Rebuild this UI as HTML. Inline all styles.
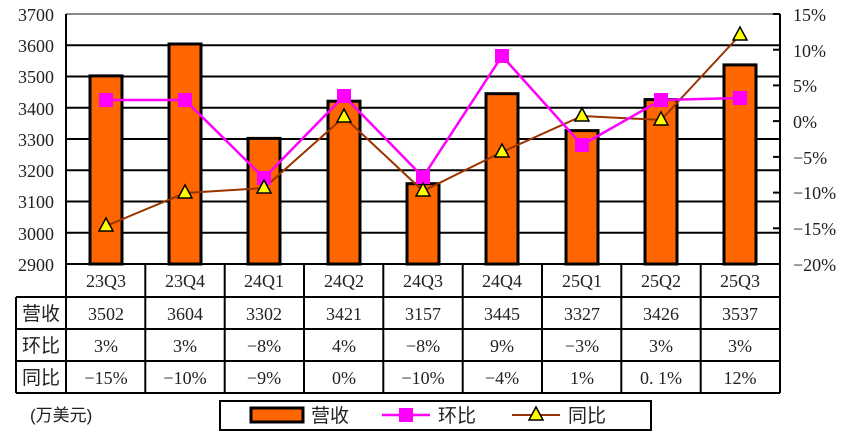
<!DOCTYPE html>
<html><head><meta charset="utf-8"><style>
body{margin:0;background:#fff;width:858px;height:442px;overflow:hidden}
text{font-family:"Liberation Serif","Noto Serif CJK SC",serif;font-size:18px;fill:#222}
.c{font-family:"Liberation Sans","Noto Sans CJK SC",sans-serif;font-size:19px}
</style></head><body>
<svg width="858" height="442" xmlns="http://www.w3.org/2000/svg">
<g stroke="#000" stroke-width="2">
<line x1="66" y1="45.25" x2="780" y2="45.25"/><line x1="66" y1="76.5" x2="780" y2="76.5"/>
<line x1="66" y1="107.75" x2="780" y2="107.75"/><line x1="66" y1="139" x2="780" y2="139"/>
<line x1="66" y1="170.25" x2="780" y2="170.25"/><line x1="66" y1="201.5" x2="780" y2="201.5"/>
<line x1="66" y1="232.75" x2="780" y2="232.75"/>
</g>
<line x1="66" y1="14" x2="780" y2="14" stroke="#888" stroke-width="2"/>
<g text-anchor="end">
<text x="54" y="21">3700</text><text x="54" y="52">3600</text><text x="54" y="83">3500</text>
<text x="54" y="115">3400</text><text x="54" y="146">3300</text><text x="54" y="177">3200</text>
<text x="54" y="208">3100</text><text x="54" y="240">3000</text><text x="54" y="271">2900</text>
</g>
<g stroke="#000" stroke-width="2">
<line x1="773" y1="14" x2="780" y2="14"/><line x1="773" y1="49.7" x2="780" y2="49.7"/>
<line x1="773" y1="85.4" x2="780" y2="85.4"/><line x1="773" y1="121.1" x2="780" y2="121.1"/>
<line x1="773" y1="156.9" x2="780" y2="156.9"/><line x1="773" y1="192.6" x2="780" y2="192.6"/>
<line x1="773" y1="228.3" x2="780" y2="228.3"/>
</g>
<text x="793" y="21">15%</text><text x="793" y="57">10%</text><text x="793" y="92">5%</text>
<text x="793" y="128">0%</text><text x="793" y="164">−5%</text><text x="793" y="199">−10%</text>
<text x="793" y="235">−15%</text><text x="793" y="271">−20%</text>
<g fill="#ff6600" stroke="#000" stroke-width="3">
<rect x="90" y="75.9" width="32" height="188.1"/>
<rect x="169" y="44" width="32" height="220"/>
<rect x="248" y="138.4" width="32" height="125.6"/>
<rect x="328" y="101.2" width="32" height="162.8"/>
<rect x="407" y="183.7" width="32" height="80.3"/>
<rect x="486" y="93.7" width="32" height="170.3"/>
<rect x="566" y="130.6" width="32" height="133.4"/>
<rect x="645" y="99.6" width="32" height="164.4"/>
<rect x="724" y="64.9" width="32" height="199.1"/>
</g>
<line x1="66" y1="14" x2="66" y2="264" stroke="#000" stroke-width="2"/>
<line x1="780" y1="14" x2="780" y2="264" stroke="#000" stroke-width="2"/>
<polyline points="106,226 185,193 264,188 344,117 423,191 502,152 582,116 661,120 740,35" fill="none" stroke="#993300" stroke-width="2"/>
<polyline points="106,100 185,100 264,178 344,96 423,177 502,56 582,145 661,100 740,98" fill="none" stroke="#ff00ff" stroke-width="2.5"/>
<g fill="#ff00ff">
<rect x="99" y="93" width="14" height="14"/><rect x="178" y="93" width="14" height="14"/>
<rect x="257" y="171" width="14" height="14"/><rect x="337" y="89" width="14" height="14"/>
<rect x="416" y="170" width="14" height="14"/><rect x="495" y="49" width="14" height="14"/>
<rect x="575" y="138" width="14" height="14"/><rect x="654" y="93" width="14" height="14"/>
<rect x="733" y="91" width="14" height="14"/>
</g>
<g fill="#ffff00" stroke="#000" stroke-width="1.5">
<polygon points="106,218 99,231 113,231"/><polygon points="185,185 178,198 192,198"/>
<polygon points="264,180 257,193 271,193"/><polygon points="344,109 337,122 351,122"/>
<polygon points="423,183 416,196 430,196"/><polygon points="502,144 495,157 509,157"/>
<polygon points="582,108 575,121 589,121"/><polygon points="661,112 654,125 668,125"/>
<polygon points="740,27 733,40 747,40"/>
</g>
<g stroke="#000" stroke-width="2">
<line x1="66" y1="264" x2="780" y2="264"/>
<line x1="16" y1="297" x2="780" y2="297"/><line x1="16" y1="329" x2="780" y2="329"/>
<line x1="16" y1="361" x2="780" y2="361"/><line x1="16" y1="393" x2="780" y2="393"/>
<line x1="16" y1="297" x2="16" y2="393"/>
<line x1="66" y1="264" x2="66" y2="393"/><line x1="145.3" y1="264" x2="145.3" y2="393"/>
<line x1="224.7" y1="264" x2="224.7" y2="393"/><line x1="304" y1="264" x2="304" y2="393"/>
<line x1="383.3" y1="264" x2="383.3" y2="393"/><line x1="462.7" y1="264" x2="462.7" y2="393"/>
<line x1="542" y1="264" x2="542" y2="393"/><line x1="621.3" y1="264" x2="621.3" y2="393"/>
<line x1="700.7" y1="264" x2="700.7" y2="393"/><line x1="780" y1="264" x2="780" y2="393"/>
</g>
<g text-anchor="middle">
<text class="c" x="41" y="320">营收</text><text class="c" x="41" y="352">环比</text><text class="c" x="41" y="384">同比</text>
<text x="106" y="287">23Q3</text><text x="185" y="287">23Q4</text><text x="264" y="287">24Q1</text>
<text x="344" y="287">24Q2</text><text x="423" y="287">24Q3</text><text x="502" y="287">24Q4</text>
<text x="582" y="287">25Q1</text><text x="661" y="287">25Q2</text><text x="740" y="287">25Q3</text>
<text x="106" y="320">3502</text><text x="185" y="320">3604</text><text x="264" y="320">3302</text>
<text x="344" y="320">3421</text><text x="423" y="320">3157</text><text x="502" y="320">3445</text>
<text x="582" y="320">3327</text><text x="661" y="320">3426</text><text x="740" y="320">3537</text>
<text x="106" y="352">3%</text><text x="185" y="352">3%</text><text x="264" y="352">−8%</text>
<text x="344" y="352">4%</text><text x="423" y="352">−8%</text><text x="502" y="352">9%</text>
<text x="582" y="352">−3%</text><text x="661" y="352">3%</text><text x="740" y="352">3%</text>
<text x="106" y="384">−15%</text><text x="185" y="384">−10%</text><text x="264" y="384">−9%</text>
<text x="344" y="384">0%</text><text x="423" y="384">−10%</text><text x="502" y="384">−4%</text>
<text x="582" y="384">1%</text><text x="661" y="384">0. 1%</text><text x="740" y="384">12%</text>
</g>
<text class="c" x="30" y="421" style="font-size:17px">(万美元)</text>
<rect x="220" y="401" width="431" height="29" fill="#fff" stroke="#000" stroke-width="2"/>
<rect x="251" y="408" width="52" height="14" fill="#ff6600" stroke="#000" stroke-width="3"/>
<text class="c" x="311" y="422">营收</text>
<line x1="382" y1="415" x2="430" y2="415" stroke="#ff00ff" stroke-width="2.5"/>
<rect x="399" y="408" width="14" height="14" fill="#ff00ff"/>
<text class="c" x="438" y="422">环比</text>
<line x1="512" y1="415" x2="560" y2="415" stroke="#993300" stroke-width="2"/>
<polygon points="536,407 529,420 543,420" fill="#ffff00" stroke="#000" stroke-width="1.5"/>
<text class="c" x="568" y="422">同比</text>
</svg>
</body></html>
